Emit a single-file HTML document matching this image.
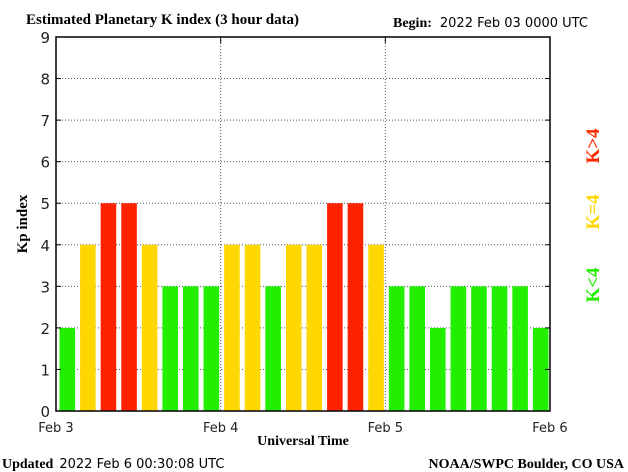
<!DOCTYPE html>
<html><head><meta charset="utf-8"><style>
body{margin:0;background:#fff;}
svg{display:block;}
.s{font-family:"Liberation Serif",serif;font-weight:bold;}
.n{font-family:"DejaVu Sans","Liberation Sans",sans-serif;}
</style></head><body>
<svg id="c" width="628" height="472" viewBox="0 0 628 472">
<text class="s" x="26" y="24" font-size="15">Estimated Planetary K index (3 hour data)</text>
<text x="393" y="27" font-size="14"><tspan class="s">Begin:</tspan><tspan class="n" font-size="13" dx="8">2022 Feb 03 0000 UTC</tspan></text>
<g id="grid"></g>
<g id="bars"></g>
<g id="axes"></g>
<text class="s" x="0" y="0" font-size="15" transform="translate(27,224) rotate(-90)" text-anchor="middle">Kp index</text>
<text class="s" x="303" y="445" font-size="14" text-anchor="middle">Universal Time</text>
<text x="2" y="468" font-size="14"><tspan class="s">Updated</tspan><tspan class="n" font-size="13" dx="6">2022 Feb  6 00:30:08 UTC</tspan></text>
<text class="s" x="624" y="468" font-size="14" text-anchor="end">NOAA/SWPC Boulder, CO USA</text>
<text class="s" font-size="19" fill="#ff2a00" transform="translate(599,146) rotate(-90)" text-anchor="middle">K&gt;4</text>
<text class="s" font-size="19" fill="#ffd700" transform="translate(599,212) rotate(-90)" text-anchor="middle">K=4</text>
<text class="s" font-size="19" fill="#22ee00" transform="translate(599,285) rotate(-90)" text-anchor="middle">K&lt;4</text>
</svg>
<script>
const kpValues=[2,4,5,5,4,3,3,3, 4,4,3,4,4,5,5,4, 3,3,2,3,3,3,3,2];
const yTicks=[0,1,2,3,4,5,6,7,8,9];
const dayLabels=["Feb 3","Feb 4","Feb 5","Feb 6"];
const NS="http://www.w3.org/2000/svg";
const X0=56,X1=550,Y0=411,Y9=37;
const nSlots=kpValues.length;
function x(i){return X0+(X1-X0)*i/nSlots;}
function y(v){return Y0-(Y0-Y9)*v/9;}
function mk(t,a,p){const e=document.createElementNS(NS,t);for(const k in a)e.setAttribute(k,a[k]);p.appendChild(e);return e;}
const grid=document.getElementById('grid'),bars=document.getElementById('bars'),axes=document.getElementById('axes');
yTicks.forEach(v=>{
 if(v>0&&v<9){const l=mk('line',{x1:X0,x2:X1,y1:y(v),y2:y(v),stroke:'#555','stroke-dasharray':'1,2'},grid);
 
 }
 const t=mk('text',{x:X0-6,y:y(v)+6,'text-anchor':'end','font-size':15,'class':'n',fill:'#222'},axes);t.textContent=v;
 
 
 mk('line',{x1:X0,x2:X0+5,y1:y(v),y2:y(v),stroke:'#000'},axes);
 mk('line',{x1:X1,x2:X1-5,y1:y(v),y2:y(v),stroke:'#000'},axes);
});
dayLabels.forEach((d,k)=>{
 const xx=x(k*8);
 if(k>0&&k<3){const l=mk('line',{x1:xx,x2:xx,y1:Y9,y2:Y0,stroke:'#555','stroke-dasharray':'1,2'},grid);
 
 }
 mk('line',{x1:xx,x2:xx,y1:Y9,y2:Y9+6,stroke:'#000'},axes);
 const t=mk('text',{x:xx,y:Y0+21,'text-anchor':'middle','font-size':13,'class':'n',fill:'#222'},axes);t.textContent=d;
 
 
});
kpValues.forEach((v,i)=>{
 const c=v>4?'#ff2200':(v==4?'#ffd700':'#22ee00');
 const w=(X1-X0)/nSlots;
 const r=mk('rect',{x:x(i)+3.5,y:y(v),width:w-5,height:Y0-y(v),fill:c},bars);
 
 
});
const b=mk('rect',{x:X0,y:Y9,width:X1-X0,height:Y0-Y9,fill:'none',stroke:'#000','stroke-width':1.5},axes);


</script>
</body></html>
